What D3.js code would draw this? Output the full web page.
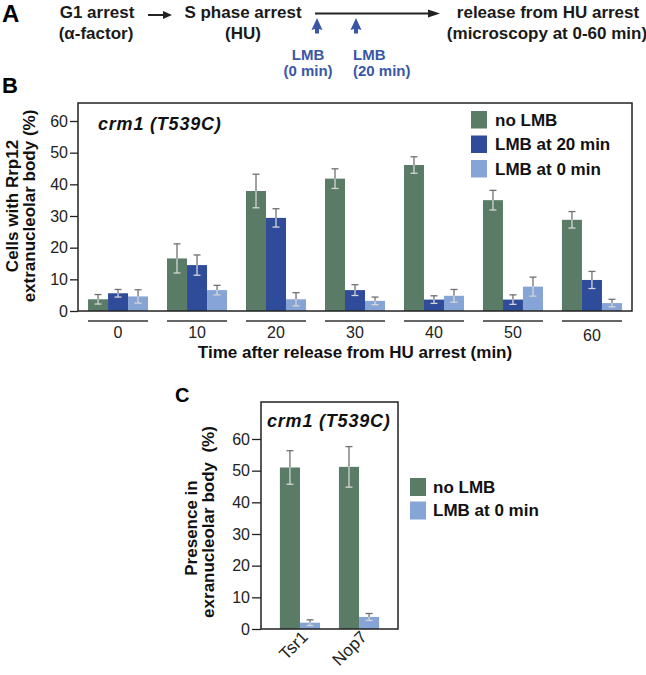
<!DOCTYPE html>
<html><head><meta charset="utf-8">
<script src="https://cdn.jsdelivr.net/npm/d3@7"></script>
<style>
html,body{margin:0;padding:0;background:#fff;}
svg{display:block;font-family:"Liberation Sans",Arial,Helvetica,sans-serif;}
</style></head>
<body><svg id="fig" width="646" height="675"></svg>
<script>
// ---------- data ----------
const timeCats = ["0","10","20","30","40","50","60"];
const seriesNames = ["no LMB","LMB at 20 min","LMB at 0 min"];
const noLMB     = [3.7, 16.6, 37.9, 41.8, 46.1, 35.0, 28.8];
const noLMBerr  = [1.5, 4.6, 5.3, 3.1, 2.6, 3.1, 2.6];
const lmb20     = [5.6, 14.5, 29.4, 6.6, 3.6, 3.6, 9.8];
const lmb20err  = [1.2, 3.2, 2.9, 1.7, 1.2, 1.5, 2.7];
const lmb0      = [4.6, 6.6, 3.7, 3.2, 4.8, 7.7, 2.5];
const lmb0err   = [2.1, 1.5, 2.1, 1.2, 2.0, 3.0, 1.2];
const yTicks    = [0, 10, 20, 30, 40, 50, 60];

const proteins   = ["Tsr1","Nop7"];
const cSeries    = ["no LMB","LMB at 0 min"];
const cNoLMB     = [51.0, 51.2];
const cNoLMBerr  = [5.3, 6.4];
const cLMB0      = [2.0, 3.8];
const cLMB0err   = [0.9, 1.1];

const colors = {"no LMB":"#5a7b65","LMB at 20 min":"#2f4c9b","LMB at 0 min":"#87a4d7"};
const errDark = "#707070", errLight = "#d6d6d6";
const axisCol = "#222";

const svg = d3.select("#fig");
svg.append("rect").attr("width",646).attr("height",675).attr("fill","#fff");

// ---------- panel A ----------
const A = svg.append("g");
A.append("text").attr("x",2).attr("y",22).attr("font-size",24).attr("font-weight","bold").text("A");
const aText = [
  {t:"G1 arrest", x:97, y:18}, {t:"(\u03b1-factor)", x:96, y:39},
  {t:"S phase arrest", x:243, y:18}, {t:"(HU)", x:243, y:39},
  {t:"release from HU arrest", x:548, y:18}, {t:"(microscopy at 0-60 min)", x:547, y:39}
];
A.selectAll("text.at").data(aText).join("text").attr("class","at")
  .attr("x",d=>d.x).attr("y",d=>d.y).attr("text-anchor","middle")
  .attr("font-size",17).attr("font-weight","bold").attr("fill","#1a1a1a").text(d=>d.t);
// small arrow
A.append("line").attr("x1",148).attr("x2",164).attr("y1",15).attr("y2",15).attr("stroke","#222").attr("stroke-width",2);
A.append("path").attr("d","M163,11 L172,15 L163,19 Z").attr("fill","#222");
// long arrow
A.append("line").attr("x1",315).attr("x2",430).attr("y1",13.5).attr("y2",13.5).attr("stroke","#222").attr("stroke-width",1.8);
A.append("path").attr("d","M428,9.5 L440,13.5 L428,17.5 Z").attr("fill","#222");
// blue arrows
const blue = "#3a57a6";
const lmbMarks = [{x:317},{x:356}];
lmbMarks.forEach(m=>{
  A.append("path").attr("d",`M${m.x},18 L${m.x+5.5},30 L${m.x+2},29 L${m.x+2},33.5 L${m.x-2},33.5 L${m.x-2},29 L${m.x-5.5},30 Z`).attr("fill",blue);
});
A.append("text").attr("x",308).attr("y",60).attr("text-anchor","middle").attr("font-size",15).attr("font-weight","bold").attr("fill",blue).text("LMB");
A.append("text").attr("x",308).attr("y",76).attr("text-anchor","middle").attr("font-size",15).attr("font-weight","bold").attr("fill",blue).text("(0 min)");
A.append("text").attr("x",353).attr("y",60).attr("text-anchor","start").attr("font-size",15).attr("font-weight","bold").attr("fill",blue).text("LMB");
A.append("text").attr("x",353).attr("y",76).attr("text-anchor","start").attr("font-size",15).attr("font-weight","bold").attr("fill",blue).text("(20 min)");

// ---------- helper: error bars ----------
function errBar(g, cx, y, v, e){
  const hw = 3.5;
  g.append("line").attr("x1",cx).attr("x2",cx).attr("y1",y(v+e)).attr("y2",y(v)).attr("stroke",errDark).attr("stroke-width",1.3);
  g.append("line").attr("x1",cx-hw).attr("x2",cx+hw).attr("y1",y(v+e)).attr("y2",y(v+e)).attr("stroke",errDark).attr("stroke-width",1.3);
  g.append("line").attr("x1",cx).attr("x2",cx).attr("y1",y(v)).attr("y2",y(v-e)).attr("stroke",errLight).attr("stroke-width",1.3);
  g.append("line").attr("x1",cx-hw).attr("x2",cx+hw).attr("y1",y(v-e)).attr("y2",y(v-e)).attr("stroke",errLight).attr("stroke-width",1.3);
}

// ---------- panel B ----------
const B = svg.append("g");
B.append("text").attr("x",2).attr("y",93).attr("font-size",22).attr("font-weight","bold").text("B");
const bL=78, bR=632, bT=103, bB=311;
const yB = d3.scaleLinear().domain([0,60]).range([bB, bB-190]);
const x0B = d3.scaleBand().domain(timeCats).range([bL,bR]).paddingInner(0.24).paddingOuter(0.127);
const x1B = d3.scaleBand().domain(seriesNames).range([0,x0B.bandwidth()]);
const bData = timeCats.map((c,i)=>({cat:c, vals:[
  {s:seriesNames[0], v:noLMB[i], e:noLMBerr[i]},
  {s:seriesNames[1], v:lmb20[i], e:lmb20err[i]},
  {s:seriesNames[2], v:lmb0[i], e:lmb0err[i]}]}));
const gb = B.append("g");
bData.forEach(d=>{
  d.vals.forEach(s=>{
    const x = x0B(d.cat)+x1B(s.s);
    gb.append("rect").attr("x",x).attr("y",yB(s.v)).attr("width",x1B.bandwidth()).attr("height",yB(0)-yB(s.v)).attr("fill",colors[s.s]);
  });
});
bData.forEach(d=>d.vals.forEach(s=>errBar(gb, x0B(d.cat)+x1B(s.s)+x1B.bandwidth()/2, yB, s.v, s.e)));
// box
B.append("rect").attr("x",bL).attr("y",bT).attr("width",bR-bL).attr("height",bB-bT).attr("fill","none").attr("stroke",axisCol).attr("stroke-width",1.5);
// y axis
const yAxB = d3.axisLeft(yB).tickValues(yTicks).tickSize(8).tickPadding(2);
const gyB = B.append("g").attr("transform",`translate(${bL},0)`).call(yAxB);
gyB.select(".domain").remove();
gyB.selectAll("line").attr("stroke",axisCol).attr("stroke-width",1.3);
gyB.selectAll("text").attr("font-size",16).attr("fill","#222").attr("font-family","Liberation Sans, Arial, sans-serif");
// x group lines + labels
B.selectAll("line.grp").data(timeCats).join("line").attr("class","grp")
  .attr("x1",d=>x0B(d)).attr("x2",d=>x0B(d)+x0B.bandwidth()).attr("y1",321).attr("y2",321)
  .attr("stroke","#333").attr("stroke-width",1.5);
B.selectAll("text.xl").data(timeCats).join("text").attr("class","xl")
  .attr("x",d=>x0B(d)+x0B.bandwidth()/2).attr("y",d=>d==="60"?341:338).attr("text-anchor","middle")
  .attr("font-size",16).attr("fill","#222").text(d=>d);
B.append("text").attr("x",(bL+bR)/2).attr("y",358).attr("text-anchor","middle").attr("font-size",17).attr("font-weight","bold").attr("fill","#111")
  .text("Time after release from HU arrest (min)");
// y title
const ytB = B.append("text").attr("transform",`translate(18,206) rotate(-90)`).attr("text-anchor","middle").attr("font-size",17).attr("font-weight","bold").attr("fill","#111");
ytB.append("tspan").attr("x",0).attr("y",0).text("Cells with Rrp12");
ytB.append("tspan").attr("x",0).attr("y",17).text("extranucleolar body (%)");
// title
B.append("text").attr("x",98).attr("y",130).attr("font-size",18).attr("font-weight","bold").attr("font-style","italic").attr("letter-spacing",0.8).attr("fill","#111").text("crm1 (T539C)");
// legend
const legB = B.append("g").attr("transform","translate(471,111)");
seriesNames.forEach((s,i)=>{
  legB.append("rect").attr("x",0).attr("y",i*24.5).attr("width",16).attr("height",17.5).attr("fill",colors[s]);
  legB.append("text").attr("x",24).attr("y",i*24.5+14.5).attr("font-size",17).attr("font-weight","bold").attr("fill","#111").text(s);
});

// ---------- panel C ----------
const C = svg.append("g");
C.append("text").attr("x",175).attr("y",402).attr("font-size",20).attr("font-weight","bold").text("C");
const cL=261, cR=398, cT=402, cB=629;
const yC = d3.scaleLinear().domain([0,60]).range([cB, cB-190]);
const x0C = d3.scaleBand().domain(proteins).range([cL,cR]).paddingInner(0.32).paddingOuter(0.32);
const x1C = d3.scaleBand().domain(cSeries).range([0,x0C.bandwidth()]);
const cData = proteins.map((p,i)=>({cat:p, vals:[
  {s:cSeries[0], v:cNoLMB[i], e:cNoLMBerr[i]},
  {s:cSeries[1], v:cLMB0[i], e:cLMB0err[i]}]}));
const gc = C.append("g");
cData.forEach(d=>d.vals.forEach(s=>{
  gc.append("rect").attr("x",x0C(d.cat)+x1C(s.s)).attr("y",yC(s.v)).attr("width",x1C.bandwidth()).attr("height",yC(0)-yC(s.v)).attr("fill",colors[s.s]);
}));
cData.forEach(d=>d.vals.forEach(s=>errBar(gc, x0C(d.cat)+x1C(s.s)+x1C.bandwidth()/2, yC, s.v, s.e)));
C.append("rect").attr("x",cL).attr("y",cT).attr("width",cR-cL).attr("height",cB-cT).attr("fill","none").attr("stroke",axisCol).attr("stroke-width",1.5);
const gyC = C.append("g").attr("transform",`translate(${cL},0)`).call(d3.axisLeft(yC).tickValues(yTicks).tickSize(9).tickPadding(2));
gyC.select(".domain").remove();
gyC.selectAll("line").attr("stroke",axisCol).attr("stroke-width",1.3);
gyC.selectAll("text").attr("font-size",16).attr("fill","#222").attr("font-family","Liberation Sans, Arial, sans-serif");
C.selectAll("text.xl").data(proteins).join("text").attr("class","xl")
  .attr("transform",d=>`translate(${x0C(d)+x0C.bandwidth()/2+9},${cB+9}) rotate(-45)`)
  .attr("text-anchor","end").attr("font-size",17).attr("fill","#222").text(d=>d);
const ytC = C.append("text").attr("transform",`translate(197,522) rotate(-90)`).attr("text-anchor","middle").attr("font-size",17).attr("font-weight","bold").attr("fill","#111");
ytC.append("tspan").attr("x",-6).attr("y",0).text("Presence in");
ytC.append("tspan").attr("x",0).attr("y",17).attr("xml:space","preserve").text("exranucleolar body  (%)");
C.append("text").attr("x",267).attr("y",427).attr("font-size",18).attr("font-weight","bold").attr("font-style","italic").attr("letter-spacing",0.8).attr("fill","#111").text("crm1 (T539C)");
const legC = C.append("g").attr("transform","translate(410,478)");
cSeries.forEach((s,i)=>{
  legC.append("rect").attr("x",0).attr("y",i*23.5).attr("width",16).attr("height",18).attr("fill",colors[s]);
  legC.append("text").attr("x",23).attr("y",i*23.5+14.5).attr("font-size",17).attr("font-weight","bold").attr("fill","#111").text(s);
});
</script></body></html>
